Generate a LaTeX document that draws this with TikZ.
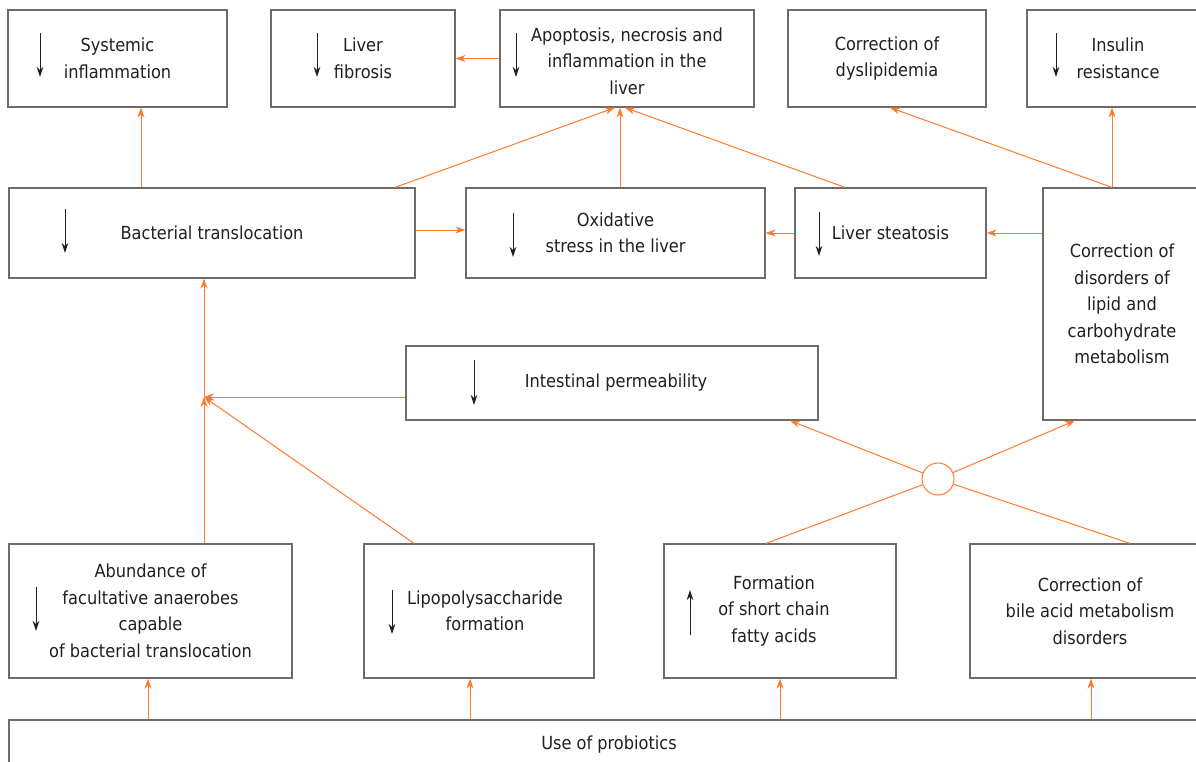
\documentclass[tikz,border=0pt]{standalone}
\usepackage{fontspec}
\setmainfont{DejaVu Sans Condensed}
\usetikzlibrary{arrows.meta}
\definecolor{linkorange}{HTML}{FF7A2E}
\definecolor{boxgray}{HTML}{6F6A6A}
\definecolor{inkdark}{HTML}{231F20}

\begin{document}
\begin{tikzpicture}[x=1pt, y=-1pt,
    box/.style={rectangle, draw=boxgray, line width=1.2pt, fill=white,
        align=center, text=inkdark, inner sep=0pt,
        font=\fontsize{18}{26.5}\selectfont},
    hub/.style={circle, draw=linkorange, line width=1pt, minimum size=32pt, inner sep=0pt},
    link/.style={draw=linkorange, line width=1pt, -{Stealth[length=10pt,width=7pt]}},
    plain/.style={draw=linkorange, line width=1pt},
    trend/.style={draw=inkdark, line width=1pt, -{Stealth[length=10pt,width=6.5pt]}}
]
    \useasboundingbox (0,0) rectangle (1196,762);
    \clip (0,0) rectangle (1196,762);

    % top row
    \node[box, minimum width=219pt, minimum height=97pt] (sys) at (117.5,58.5) {Systemic\\inflammation};
    \node[box, minimum width=184pt, minimum height=97pt] (fib) at (363,58.5) {Liver\\fibrosis};
    \node[box, minimum width=254pt, minimum height=97pt] (apop) at (627,58.5) {\rule{0pt}{19pt}Apoptosis, necrosis and\\inflammation in the\\liver};
    \node[box, minimum width=198pt, minimum height=97pt] (dysl) at (887,58.5) {Correction of\\dyslipidemia};
    \node[box, minimum width=182pt, minimum height=97pt] (ins) at (1118,58.5) {Insulin\\resistance};

    % second row
    \node[box, minimum width=406pt, minimum height=90pt] (bact) at (212,233) {Bacterial translocation};
    \node[box, minimum width=299pt, minimum height=90pt] (oxid) at (615.5,233) {Oxidative\\stress in the liver};
    \node[box, minimum width=191pt, minimum height=90pt] (steat) at (890.5,233) {Liver steatosis};
    \node[box, minimum width=158pt, minimum height=232pt] (corr) at (1122,304) {Correction of\\disorders of\\lipid and\\carbohydrate\\metabolism};

    % middle
    \node[box, minimum width=412pt, minimum height=74pt] (perm) at (612,383) {\hspace*{8pt}Intestinal permeability};
    \node[hub] (hub) at (938,479) {};
    \coordinate (join) at (204,397);

    % bottom row
    \node[box, minimum width=283pt, minimum height=134pt] (abund) at (150.5,611) {Abundance of\\facultative anaerobes\\capable\\of bacterial translocation};
    \node[box, minimum width=230pt, minimum height=134pt] (lps) at (479,611) {\hspace*{12pt}Lipopolysaccharide\\\hspace*{12pt}formation};
    \node[box, minimum width=232pt, minimum height=134pt] (scfa) at (780,611) {\hspace*{-12pt}Formation\\\hspace*{-12pt}of short chain\\\hspace*{-12pt}fatty acids};
    \node[box, minimum width=240pt, minimum height=134pt] (bile) at (1090,611) {Correction of\\bile acid metabolism\\disorders};
    \node[box, minimum width=1200pt, minimum height=50pt] (prob) at (609,745) {Use of probiotics};

    % trend marks
    \draw[trend] (40,33) -- (40,77);
    \draw[trend] (317,33) -- (317,77);
    \draw[trend] (516,33) -- (516,77);
    \draw[trend] (1056,33) -- (1056,77);
    \draw[trend] (65,209) -- (65,253);
    \draw[trend] (513,213) -- (513,257);
    \draw[trend] (819,212) -- (819,256);
    \draw[trend] (474,360) -- (474,405);
    \draw[trend] (36,587) -- (36,631);
    \draw[trend] (392,590) -- (392,634);
    \draw[trend] (690,635) -- (690,590);

    % connectors
    \draw[link] (bact.north -| 141,0) -- (sys.south -| 141,0);
    \draw[link] (apop.west) -- (fib.east);
    \draw[link] (bact.north -| 395,0) -- (apop.south -| 615,0);
    \draw[link] (oxid.north -| 620,0) -- (apop.south -| 620,0);
    \draw[link] (steat.north -| 845,0) -- (apop.south -| 625,0);
    \draw[link] (bact.east |- 0,230) -- (oxid.west |- 0,230);
    \draw[link] (steat.west) -- (oxid.east);
    \draw[link] (corr.west |- steat.east) -- (steat.east);
    \draw[link] (corr.north -| 1112,0) -- (dysl.south -| 890,0);
    \draw[link] (corr.north -| 1112,0) -- (ins.south -| 1112,0);

    \draw[link] (abund.north -| join) -- (join);
    \draw[link] (join) -- (bact.south -| join);
    \draw[link] (perm.west |- join) -- (join);
    \draw[link] (lps.north -| 414,0) -- (join);

    \draw[link] (hub) -- (perm.south -| 790,0);
    \draw[link] (hub) -- (corr.south -| 1075,0);
    \draw[plain] (scfa.north -| 766,0) -- (hub);
    \draw[plain] (bile.north -| 1130,0) -- (hub);

    \draw[link] (prob.north -| 148,0) -- (abund.south -| 148,0);
    \draw[link] (prob.north -| 470,0) -- (lps.south -| 470,0);
    \draw[link] (prob.north -| 780,0) -- (scfa.south -| 780,0);
    \draw[link] (prob.north -| 1091,0) -- (bile.south -| 1091,0);
\end{tikzpicture}
\end{document}
